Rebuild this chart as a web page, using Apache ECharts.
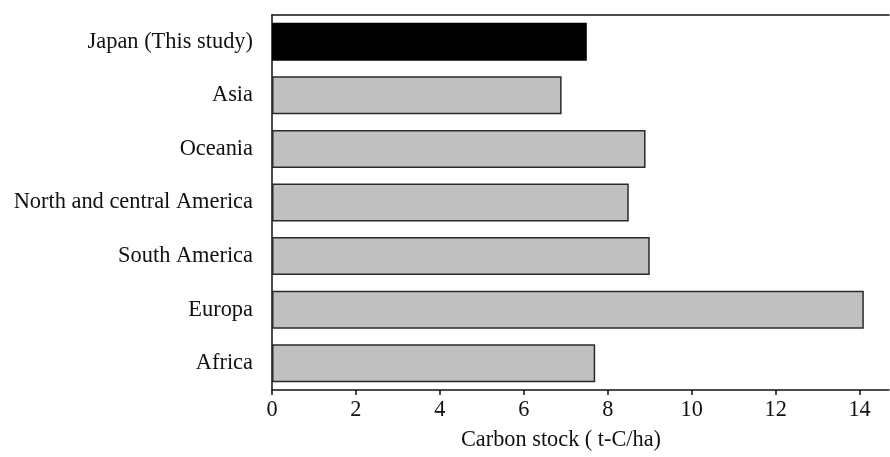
<!DOCTYPE html>
<html>
<head>
<meta charset="utf-8">
<script src="https://cdn.jsdelivr.net/npm/echarts@6/dist/echarts.min.js"></script>
<style>
html,body{margin:0;padding:0;background:#fff;}
#chart{width:890px;height:457px;}
</style>
</head>
<body>
<div id="chart"></div>
<script>
const categories = ["Japan (This study)", "Asia", "Oceania", "North and central America", "South America", "Europa", "Africa"];
const values = [7.5, 6.9, 8.9, 8.5, 9.0, 14.1, 7.7];
const highlighted = ["Japan (This study)"];
const xTicks = [0, 2, 4, 6, 8, 10, 12, 14];
const xAxisName = "Carbon stock ( t-C/ha)";

const font = "'Liberation Serif', 'Times New Roman', serif";
const chart = echarts.init(document.getElementById('chart'), null, {renderer: 'canvas'});
const data = categories.map((c, i) => ({
  value: values[i],
  itemStyle: highlighted.includes(c) ? {color: '#000000', borderColor: '#000000'} : {color: '#c0c0c0', borderColor: '#2a2a2a'}
}));
chart.setOption({
  animation: false,
  grid: {left: 272, right: 1, top: 15, bottom: 67, containLabel: false},
  xAxis: [{
    type: 'value', min: 0, max: 14.7, interval: 2, position: 'bottom',
    name: xAxisName, nameLocation: 'middle', nameGap: 39,
    nameTextStyle: {fontFamily: font, fontSize: 22.3, color: '#111', padding: [0, 39, 0, 0]},
    axisLine: {show: true, lineStyle: {color: '#111', width: 1.5}},
    axisTick: {show: true, length: 5, inside: false, customValues: xTicks, lineStyle: {color: '#111', width: 1.5}},
    axisLabel: {fontFamily: font, fontSize: 22.3, color: '#111', margin: 9, customValues: xTicks},
    splitLine: {show: false}
  }, {
    type: 'value', min: 0, max: 14.7, position: 'top',
    axisLine: {show: true, lineStyle: {color: '#111', width: 1.5}},
    axisTick: {show: false}, axisLabel: {show: false}, splitLine: {show: false}
  }],
  yAxis: {
    type: 'category', data: categories, inverse: true,
    axisLine: {show: true, lineStyle: {color: '#111', width: 1.5}},
    axisTick: {show: false},
    axisLabel: {fontFamily: font, fontSize: 22.4, color: '#111', margin: 19}
  },
  series: [{
    type: 'bar', data: data, barWidth: 38,
    itemStyle: {borderWidth: 1.5}
  }]
});
</script>
</body>
</html>
